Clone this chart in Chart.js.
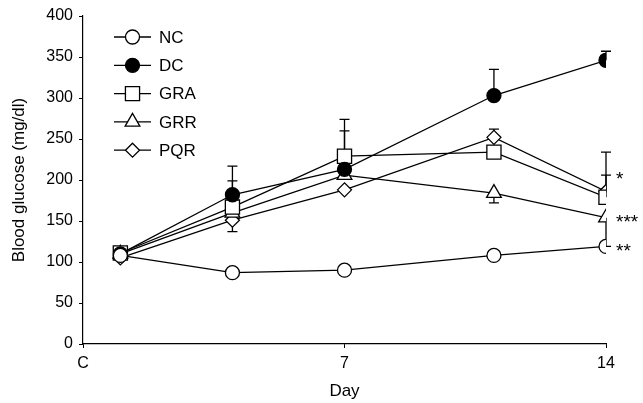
<!DOCTYPE html>
<html>
<head>
<meta charset="utf-8">
<script src="https://cdn.jsdelivr.net/npm/chart.js@4.4.1/dist/chart.umd.min.js"></script>
<style>
  html, body { margin: 0; padding: 0; background: #fff; }
  canvas { display: block; }
</style>
</head>
<body>
<canvas id="glucoseChart" width="643" height="403"></canvas>
<script>
// Sampling days
const days = [1, 4, 7, 11, 14];

// Blood glucose (mg/dl) per group
const ncValues = [108, 87, 90, 108, 119];
const dcValues = [110, 182, 213, 303, 346];
const graValues = [111, 167, 229, 234, 179];
const grrValues = [110, 160, 206, 184, 154];
const pqrValues = [105, 151, 188, 252, 186];

// One-sided error bars (positive = drawn up, negative = drawn down)
const ncErrors = [null, null, null, null, null];
const dcErrors = [null, 35, 61, 32, 11];
const graErrors = [null, 32, 31, null, 55];
const grrErrors = [null, null, null, -12, -35];
const pqrErrors = [null, -14, null, 10, 20];

// Significance marks at day 14
const sigLabels = ['*', '***', '**'];
const sigValues = [206, 154, 119];

const xTicks = [0, 7, 14];
const xTickLabels = ['C', '7', '14'];

const FONT = "'Liberation Sans', Arial, sans-serif";

function makeSeries(label, values, errors, style, fill, radius) {
    return {
        label: label,
        data: days.map((d, i) => ({ x: d, y: values[i] })),
        errors: errors,
        borderColor: '#000',
        borderWidth: 1.3,
        tension: 0,
        pointStyle: style,
        pointRadius: radius,
        pointHoverRadius: radius,
        pointBackgroundColor: fill,
        pointBorderColor: '#000',
        pointBorderWidth: 1.3
    };
}

// Error bars under the markers
const errorBars = {
    id: 'errorBars',
    beforeDatasetsDraw(chart) {
        const ctx = chart.ctx;
        const xs = chart.scales.x, ys = chart.scales.y;
        ctx.save();
        ctx.strokeStyle = '#000';
        ctx.lineWidth = 1.3;
        chart.data.datasets.forEach(ds => {
            ds.data.forEach((p, i) => {
                const e = ds.errors[i];
                if (e === null || e === undefined) return;
                const px = xs.getPixelForValue(p.x);
                const y0 = ys.getPixelForValue(p.y);
                const y1 = ys.getPixelForValue(p.y + e);
                ctx.beginPath();
                ctx.moveTo(px, y0);
                ctx.lineTo(px, y1);
                ctx.moveTo(px - 5, y1);
                ctx.lineTo(px + 5, y1);
                ctx.stroke();
            });
        });
        ctx.restore();
    }
};

// Legend drawn inside the plot, line through marker
const innerLegend = {
    id: 'innerLegend',
    afterDraw(chart) {
        const ctx = chart.ctx;
        ctx.save();
        chart.data.datasets.forEach((ds, i) => {
            const y = 37 + i * 28.3;
            ctx.strokeStyle = '#000';
            ctx.lineWidth = 1.3;
            ctx.beginPath();
            ctx.moveTo(114, y);
            ctx.lineTo(151, y);
            ctx.stroke();
            ctx.fillStyle = ds.pointBackgroundColor;
            Chart.helpers.drawPoint(ctx, {
                pointStyle: ds.pointStyle,
                radius: ds.pointRadius,
                rotation: 0,
                borderWidth: 1.3
            }, 132.5, y);
            ctx.fillStyle = '#000';
            ctx.font = '17px ' + FONT;
            ctx.textBaseline = 'middle';
            ctx.textAlign = 'left';
            ctx.fillText(ds.label, 159, y + 1);
        });
        ctx.restore();
    }
};

// Asterisks next to the last points
const sigMarks = {
    id: 'sigMarks',
    afterDraw(chart) {
        const ctx = chart.ctx;
        const xs = chart.scales.x, ys = chart.scales.y;
        ctx.save();
        ctx.fillStyle = '#000';
        ctx.font = '19px ' + FONT;
        ctx.textAlign = 'left';
        ctx.textBaseline = 'middle';
        sigLabels.forEach((t, i) => {
            ctx.fillText(t, xs.getPixelForValue(14) + 10, ys.getPixelForValue(sigValues[i]) + 5);
        });
        ctx.restore();
    }
};

new Chart(document.getElementById('glucoseChart'), {
    type: 'line',
    data: {
        datasets: [
            makeSeries('NC', ncValues, ncErrors, 'circle', '#fff', 7),
            makeSeries('DC', dcValues, dcErrors, 'circle', '#000', 7),
            makeSeries('GRA', graValues, graErrors, 'rect', '#fff', 10),
            makeSeries('GRR', grrValues, grrErrors, 'triangle', '#fff', 8.5),
            makeSeries('PQR', pqrValues, pqrErrors, 'rectRot', '#fff', 7)
        ]
    },
    options: {
        responsive: false,
        animation: false,
        layout: { padding: { top: 16, right: 37, left: 0, bottom: 0 } },
        plugins: {
            legend: { display: false },
            tooltip: { enabled: false }
        },
        scales: {
            x: {
                type: 'linear',
                min: 0,
                max: 14,
                afterBuildTicks(axis) {
                    axis.ticks = xTicks.map(v => ({ value: v }));
                },
                afterFit(axis) { axis.height = 59; },
                ticks: {
                    color: '#000',
                    font: { family: FONT, size: 16 },
                    padding: 6,
                    maxRotation: 0,
                    callback: (v) => xTickLabels[xTicks.indexOf(v)]
                },
                grid: { display: true, drawOnChartArea: false, tickLength: 4, color: '#000' },
                border: { color: '#000', width: 1.2 },
                title: {
                    display: true,
                    text: 'Day',
                    color: '#000',
                    font: { family: FONT, size: 17 },
                    padding: { top: 6, bottom: 1 }
                }
            },
            y: {
                min: 0,
                max: 400,
                afterFit(axis) { axis.width = 83; },
                ticks: {
                    stepSize: 50,
                    color: '#000',
                    font: { family: FONT, size: 16 },
                    padding: 6
                },
                grid: { display: true, drawOnChartArea: false, tickLength: 4, color: '#000' },
                border: { color: '#000', width: 1.2 },
                title: {
                    display: true,
                    text: 'Blood glucose (mg/dl)',
                    color: '#000',
                    font: { family: FONT, size: 17 },
                    padding: { top: 9, bottom: 4 }
                }
            }
        }
    },
    plugins: [errorBars, innerLegend, sigMarks]
});
</script>
</body>
</html>
